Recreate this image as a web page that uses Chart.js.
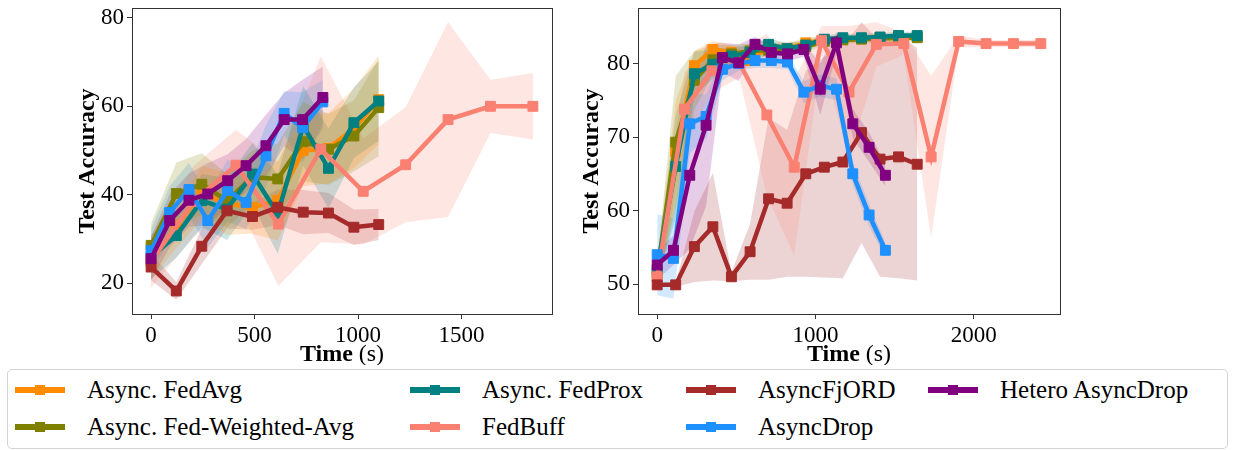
<!DOCTYPE html>
<html>
<head>
<meta charset="utf-8">
<script src="https://cdn.jsdelivr.net/npm/chart.js@4.4.1/dist/chart.umd.min.js"></script>
<style>
  body { margin: 0; background: #fff; width: 1233px; height: 450px; position: relative; overflow: hidden; font-family: 'Liberation Serif', serif; }
  canvas { position: absolute; top: 0; }
  #legend { position: absolute; left: 7px; top: 369px; width: 1221px; height: 80px; border: 1px solid #d4d4d4; border-radius: 5px; box-sizing: border-box; }
  .item { position: absolute; font-size: 25px; line-height: 28px; white-space: nowrap; color: #000; }
  .handle { position: absolute; height: 6px; width: 50px; }
  .handle span { position: absolute; left: 20px; top: -2px; width: 10px; height: 10px; }
</style>
</head>
<body>
<canvas id="leftChart" width="560" height="365" style="left:0"></canvas>
<canvas id="rightChart" width="673" height="365" style="left:560px"></canvas>
<div id="legend"></div>
<script>
// series (matplotlib plotting order)
const names = ['Async. FedAvg', 'Async. Fed-Weighted-Avg', 'Async. FedProx', 'FedBuff', 'AsyncFjORD', 'AsyncDrop', 'Hetero AsyncDrop'];
const colors = ['#FF8C00', '#808000', '#008080', '#FA8072', '#A52A2A', '#1E90FF', '#800080'];

// ---- left panel ----
const timeL = [0, 122, 245, 367, 490, 612, 735, 857, 980, 1100];
const timeLDrop = [0, 90, 183, 274, 370, 459, 555, 643, 732, 830];
const timeLBuff = [0, 205, 410, 615, 820, 1025, 1230, 1435, 1640, 1845];

const fedAvgL = [25.0, 33.0, 40.5, 38.0, 37.2, 38.7, 50.0, 50.5, 55.0, 61.5];
const fedAvgLStd = [4, 5, 6, 7, 6, 9, 8, 8, 9, 10];
const fedWAvgL = [28.6, 40.3, 42.4, 38.7, 44.0, 43.6, 52.0, 50.3, 53.3, 59.7];
const fedWAvgLStd = [5, 7, 7, 6, 6, 8, 9, 8, 8, 11];
const fedProxL = [26.0, 30.8, 38.7, 36.8, 44.7, 35.7, 55.6, 46.0, 56.3, 61.2];
const fedProxLStd = [5, 5, 6, 7, 7, 9, 9, 9, 8, 9];
const fedBuffL = [25.0, 38.5, 46.7, 33.4, 50.3, 40.8, 46.8, 57.0, 60.0, 60.0];
const fedBuffLStd = [6, 8, 8, 14, 21, 12, 13, 22, 6, 7.5];
const fjordL = [23.7, 18.3, 28.4, 36.4, 35.1, 37.2, 36.1, 35.9, 32.7, 33.3];
const fjordLStd = [3, 2, 4, 4, 3, 4, 5, 4.5, 4, 3.5];
const dropL = [27.4, 36.0, 41.2, 34.2, 41.0, 38.3, 48.8, 58.4, 55.2, 61.0];
const dropLStd = [5, 6, 6, 6, 7, 6, 7, 5, 8, 5];
const heteroL = [25.6, 34.2, 38.8, 40.2, 43.2, 46.6, 51.1, 57.0, 57.0, 62.0];
const heteroLStd = [5, 6, 6, 7, 6, 6, 7, 6, 9, 7];

const xTicksL = [0, 500, 1000, 1500];
const yTicksL = [20, 40, 60, 80];

// ---- right panel ----
const timeR = [0, 117, 235, 352, 469, 587, 704, 821, 939, 1056, 1173, 1291, 1408, 1525, 1643];
const timeRDrop = [0, 103, 206, 309, 412, 515, 618, 721, 824, 927, 1030, 1133, 1236, 1339, 1442];
const timeRBuff = [0, 173, 346, 519, 693, 866, 1039, 1212, 1385, 1558, 1731, 1905, 2078, 2251, 2424];

const fedAvgR = [51.0, 68.0, 79.7, 81.9, 81.5, 80.4, 82.3, 82.0, 82.8, 83.2, 83.3, 83.4, 83.5, 83.6, 83.6];
const fedAvgRStd = [1.5, 7, 2, 1.2, 1, 1, 0.8, 0.8, 0.7, 0.6, 0.5, 0.5, 0.5, 0.5, 0.5];
const fedWAvgR = [51.5, 69.3, 77.7, 80.5, 81.3, 81.7, 81.8, 82.0, 82.3, 83.0, 83.2, 83.3, 83.4, 83.5, 83.5];
const fedWAvgRStd = [1.5, 9, 4, 2, 1.2, 1, 0.8, 0.8, 0.7, 0.6, 0.5, 0.5, 0.5, 0.5, 0.5];
const fedProxR = [52.0, 66.0, 78.6, 79.9, 81.0, 81.5, 82.6, 82.0, 82.5, 83.3, 83.5, 83.5, 83.6, 83.8, 83.8];
const fedProxRStd = [1.5, 7, 3, 2, 1.2, 1, 0.8, 0.8, 0.7, 0.6, 0.5, 0.5, 0.5, 0.5, 0.5];
const fedBuffR = [51.0, 73.8, 79.0, 80.1, 73.0, 65.9, 83.1, 76.1, 82.6, 82.7, 67.3, 83.0, 82.7, 82.7, 82.7];
const fedBuffRStd = [1.5, 5, 3, 2, 11, 12, 2, 9, 3, 1.5, 11, 0.8, 0.5, 0.5, 0.5];
const fjordR = [49.9, 49.9, 55.1, 57.8, 51.0, 54.4, 61.6, 61.0, 65.0, 65.9, 66.6, 70.6, 67.0, 67.3, 66.3];
const fjordRStd = [0.3, 0.3, 4.8, 7.3, 0.6, 3.8, 11, 10, 14, 15, 15.8, 15, 16, 16.5, 15.8];
const dropR = [54.0, 53.5, 71.8, 72.8, 79.2, 80.0, 80.4, 80.4, 80.2, 76.1, 77.0, 76.5, 65.0, 59.4, 54.6];
const dropRStd = [5.5, 5.5, 4, 3, 1.5, 1, 1, 1, 1, 1.5, 1.5, 1.5, 1.5, 1.5, 1];
const heteroR = [52.6, 54.6, 64.8, 71.6, 80.8, 80.1, 82.6, 81.5, 81.3, 81.9, 76.5, 82.8, 71.8, 68.6, 64.8];
const heteroRStd = [2, 2, 10, 11, 2, 2.5, 1, 1, 1, 1, 3.5, 1.5, 2, 2, 1.5];

const xTicksR = [0, 1000, 2000];
const yTicksR = [50, 60, 70, 80];

const seriesL = [
  [timeL, fedAvgL, fedAvgLStd], [timeL, fedWAvgL, fedWAvgLStd], [timeL, fedProxL, fedProxLStd],
  [timeLBuff, fedBuffL, fedBuffLStd], [timeL, fjordL, fjordLStd],
  [timeLDrop, dropL, dropLStd], [timeLDrop, heteroL, heteroLStd]
];
const seriesR = [
  [timeR, fedAvgR, fedAvgRStd], [timeR, fedWAvgR, fedWAvgRStd], [timeR, fedProxR, fedProxRStd],
  [timeRBuff, fedBuffR, fedBuffRStd], [timeR, fjordR, fjordRStd],
  [timeRDrop, dropR, dropRStd], [timeRDrop, heteroR, heteroRStd]
];

const FONT = "'Liberation Serif', serif";

function alpha(hex, a) {
  const n = parseInt(hex.slice(1), 16);
  return 'rgba(' + (n >> 16) + ',' + ((n >> 8) & 255) + ',' + (n & 255) + ',' + a + ')';
}

function buildDatasets(series) {
  const ds = [];
  // shaded bands: mean +- std
  series.forEach(([t, m, s], i) => {
    ds.push({ data: t.map((x, j) => ({ x: x, y: m[j] + s[j] })), borderWidth: 0, pointRadius: 0, fill: false, order: 100 });
    ds.push({ data: t.map((x, j) => ({ x: x, y: m[j] - s[j] })), borderWidth: 0, pointRadius: 0, fill: '-1',
      backgroundColor: alpha(colors[i], 0.2), order: 100 });
  });
  // mean lines, last series on top
  series.forEach(([t, m], i) => {
    ds.push({
      data: t.map((x, j) => ({ x: x, y: m[j] })),
      borderColor: colors[i], backgroundColor: colors[i], borderWidth: 4.5,
      pointStyle: 'rect', pointRadius: 7, pointBorderWidth: 1,
      pointBackgroundColor: colors[i], pointBorderColor: colors[i],
      fill: false, order: 6 - i
    });
  });
  return ds;
}

const framePlugin = {
  id: 'frame',
  afterDraw(chart) {
    const a = chart.chartArea, ctx = chart.ctx;
    ctx.save();
    ctx.strokeStyle = '#333';
    ctx.lineWidth = 1;
    ctx.strokeRect(a.left + 0.5, a.top + 0.5, a.right - a.left, a.bottom - a.top);
    // axis titles
    ctx.fillStyle = '#000';
    ctx.textBaseline = 'middle';
    const cx = (a.left + a.right) / 2;
    ctx.font = 'bold 24px ' + FONT;
    const w1 = ctx.measureText('Time').width;
    ctx.font = '24px ' + FONT;
    const w2 = ctx.measureText(' (s)').width;
    let x0 = cx - (w1 + w2) / 2;
    ctx.textAlign = 'left';
    ctx.font = 'bold 24px ' + FONT;
    ctx.fillText('Time', x0, 355);
    ctx.font = '24px ' + FONT;
    ctx.fillText(' (s)', x0 + w1, 355);
    ctx.translate(chart.options.yTitleX, (a.top + a.bottom) / 2);
    ctx.rotate(-Math.PI / 2);
    ctx.textAlign = 'center';
    ctx.font = 'bold 24px ' + FONT;
    ctx.fillText('Test Accuracy', 0, 0);
    ctx.restore();
  }
};

function makeChart(id, series, xr, yr, xTicks, yTicks, yWidth, padRight, yTitleX) {
  const tickFont = { family: FONT, size: 23 };
  new Chart(document.getElementById(id), {
    type: 'line',
    data: { datasets: buildDatasets(series) },
    options: {
      responsive: false, animation: false, devicePixelRatio: 1,
      yTitleX: yTitleX,
      layout: { padding: { left: 0, right: padRight, top: 7, bottom: 0 } },
      plugins: { legend: { display: false }, tooltip: { enabled: false }, filler: { drawTime: 'beforeDatasetsDraw' } },
      elements: { line: { tension: 0 } },
      scales: {
        x: {
          type: 'linear', min: xr[0], max: xr[1],
          afterBuildTicks: s => { s.ticks = xTicks.map(v => ({ value: v })); },
          afterFit: s => { s.height = 51; s.paddingLeft = 0; s.paddingRight = 0; },
          ticks: { font: tickFont, color: '#000', padding: 3, maxRotation: 0, autoSkip: false, callback: v => String(v) },
          grid: { drawOnChartArea: false, tickLength: 5, tickColor: '#333' },
          border: { color: '#333' }
        },
        y: {
          min: yr[0], max: yr[1],
          afterBuildTicks: s => { s.ticks = yTicks.map(v => ({ value: v })); },
          afterFit: s => { s.width = yWidth; s.paddingTop = 0; s.paddingBottom = 0; },
          ticks: { font: tickFont, color: '#000', padding: 3, autoSkip: false, callback: v => String(v) },
          grid: { drawOnChartArea: false, tickLength: 5, tickColor: '#333' },
          border: { color: '#333' }
        }
      }
    },
    plugins: [framePlugin]
  });
}

makeChart('leftChart', seriesL, [-92.25, 1937.25], [13.1, 82.2], xTicksL, yTicksL, 132, 6, 88);
makeChart('rightChart', seriesR, [-121.2, 2545.2], [45.94, 87.54], xTicksR, yTicksR, 78, 173, 32);

// legend (column-major, 2 rows x 4 columns)
const legendCols = [86, 481, 757, 999];
const legendRows = [389, 426];
const legend = document.getElementById('legend');
names.forEach((name, i) => {
  const col = Math.floor(i / 2), row = i % 2;
  const tx = legendCols[col] - 7, ty = legendRows[row] - 369;
  const h = document.createElement('div');
  h.className = 'handle';
  h.style.left = (tx - 72) + 'px';
  h.style.top = (ty - 3) + 'px';
  h.style.background = colors[i];
  const sq = document.createElement('span');
  sq.style.background = colors[i];
  h.appendChild(sq);
  legend.appendChild(h);
  const t = document.createElement('div');
  t.className = 'item';
  t.textContent = name;
  t.style.left = tx + 'px';
  t.style.top = (ty - 14) + 'px';
  legend.appendChild(t);
});
</script>
</body>
</html>
